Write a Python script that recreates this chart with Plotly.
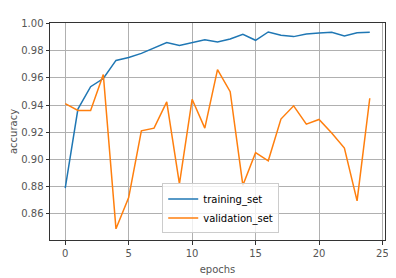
import plotly.graph_objects as go

epochs = list(range(25))
training_set = [0.879, 0.937, 0.9535, 0.9595, 0.9728, 0.975, 0.978, 0.9818, 0.9859, 0.9837,
                0.986, 0.988, 0.9864, 0.9886, 0.992, 0.9876, 0.9937, 0.9913, 0.9903, 0.9922,
                0.993, 0.9935, 0.9908, 0.9932, 0.9935]
validation_set = [0.941, 0.936, 0.936, 0.9624, 0.849, 0.872, 0.921, 0.923, 0.9423, 0.882,
                  0.9442, 0.923, 0.966, 0.9498, 0.881, 0.905, 0.899, 0.9297, 0.9394, 0.926,
                  0.9294, 0.9195, 0.9084, 0.8695, 0.945]
x_ticks = [0, 5, 10, 15, 20, 25]
y_ticks = [0.86, 0.88, 0.90, 0.92, 0.94, 0.96, 0.98, 1.00]

fig = go.Figure()
fig.add_trace(go.Scatter(x=epochs, y=training_set, mode="lines", name="training_set",
                         line=dict(color="#1f77b4", width=1.5)))
fig.add_trace(go.Scatter(x=epochs, y=validation_set, mode="lines", name="validation_set",
                         line=dict(color="#ff7f0e", width=1.5)))

axis_common = dict(showgrid=True, gridcolor="#b0b0b0", gridwidth=1, zeroline=False,
                   showline=True, linecolor="#333333", linewidth=1, mirror=True,
                   ticks="outside", ticklen=3.5, tickcolor="#333333", automargin=False,
                   tickfont=dict(family="DejaVu Sans", size=10, color="#555555"))

fig.update_xaxes(range=[-1.2, 25.2], tickvals=x_ticks,
                 title=dict(text="epochs", font=dict(family="DejaVu Sans", size=10, color="#555555"), standoff=8),
                 **axis_common)
fig.update_yaxes(range=[0.8408, 1.0003], tickvals=y_ticks, ticktext=[f"{v:.2f}" for v in y_ticks],
                 title=dict(text="accuracy", font=dict(family="DejaVu Sans", size=10, color="#555555"), standoff=6),
                 **axis_common)

# page body adds an 8px margin, so the figure is 8px smaller and shifted
fig.update_layout(
    width=388, height=270,
    margin=dict(l=42, r=11, t=15, b=38),
    plot_bgcolor="white", paper_bgcolor="white",
    font=dict(family="DejaVu Sans", size=10, color="#000000"),
    legend=dict(x=0.335, y=0.03, xanchor="left", yanchor="bottom",
                bgcolor="rgba(255,255,255,0.8)", bordercolor="#cccccc", borderwidth=1,
                font=dict(family="DejaVu Sans", size=10, color="#000000"),
                tracegroupgap=0, itemwidth=30),
    showlegend=True,
)

fig.write_html("out.html")
